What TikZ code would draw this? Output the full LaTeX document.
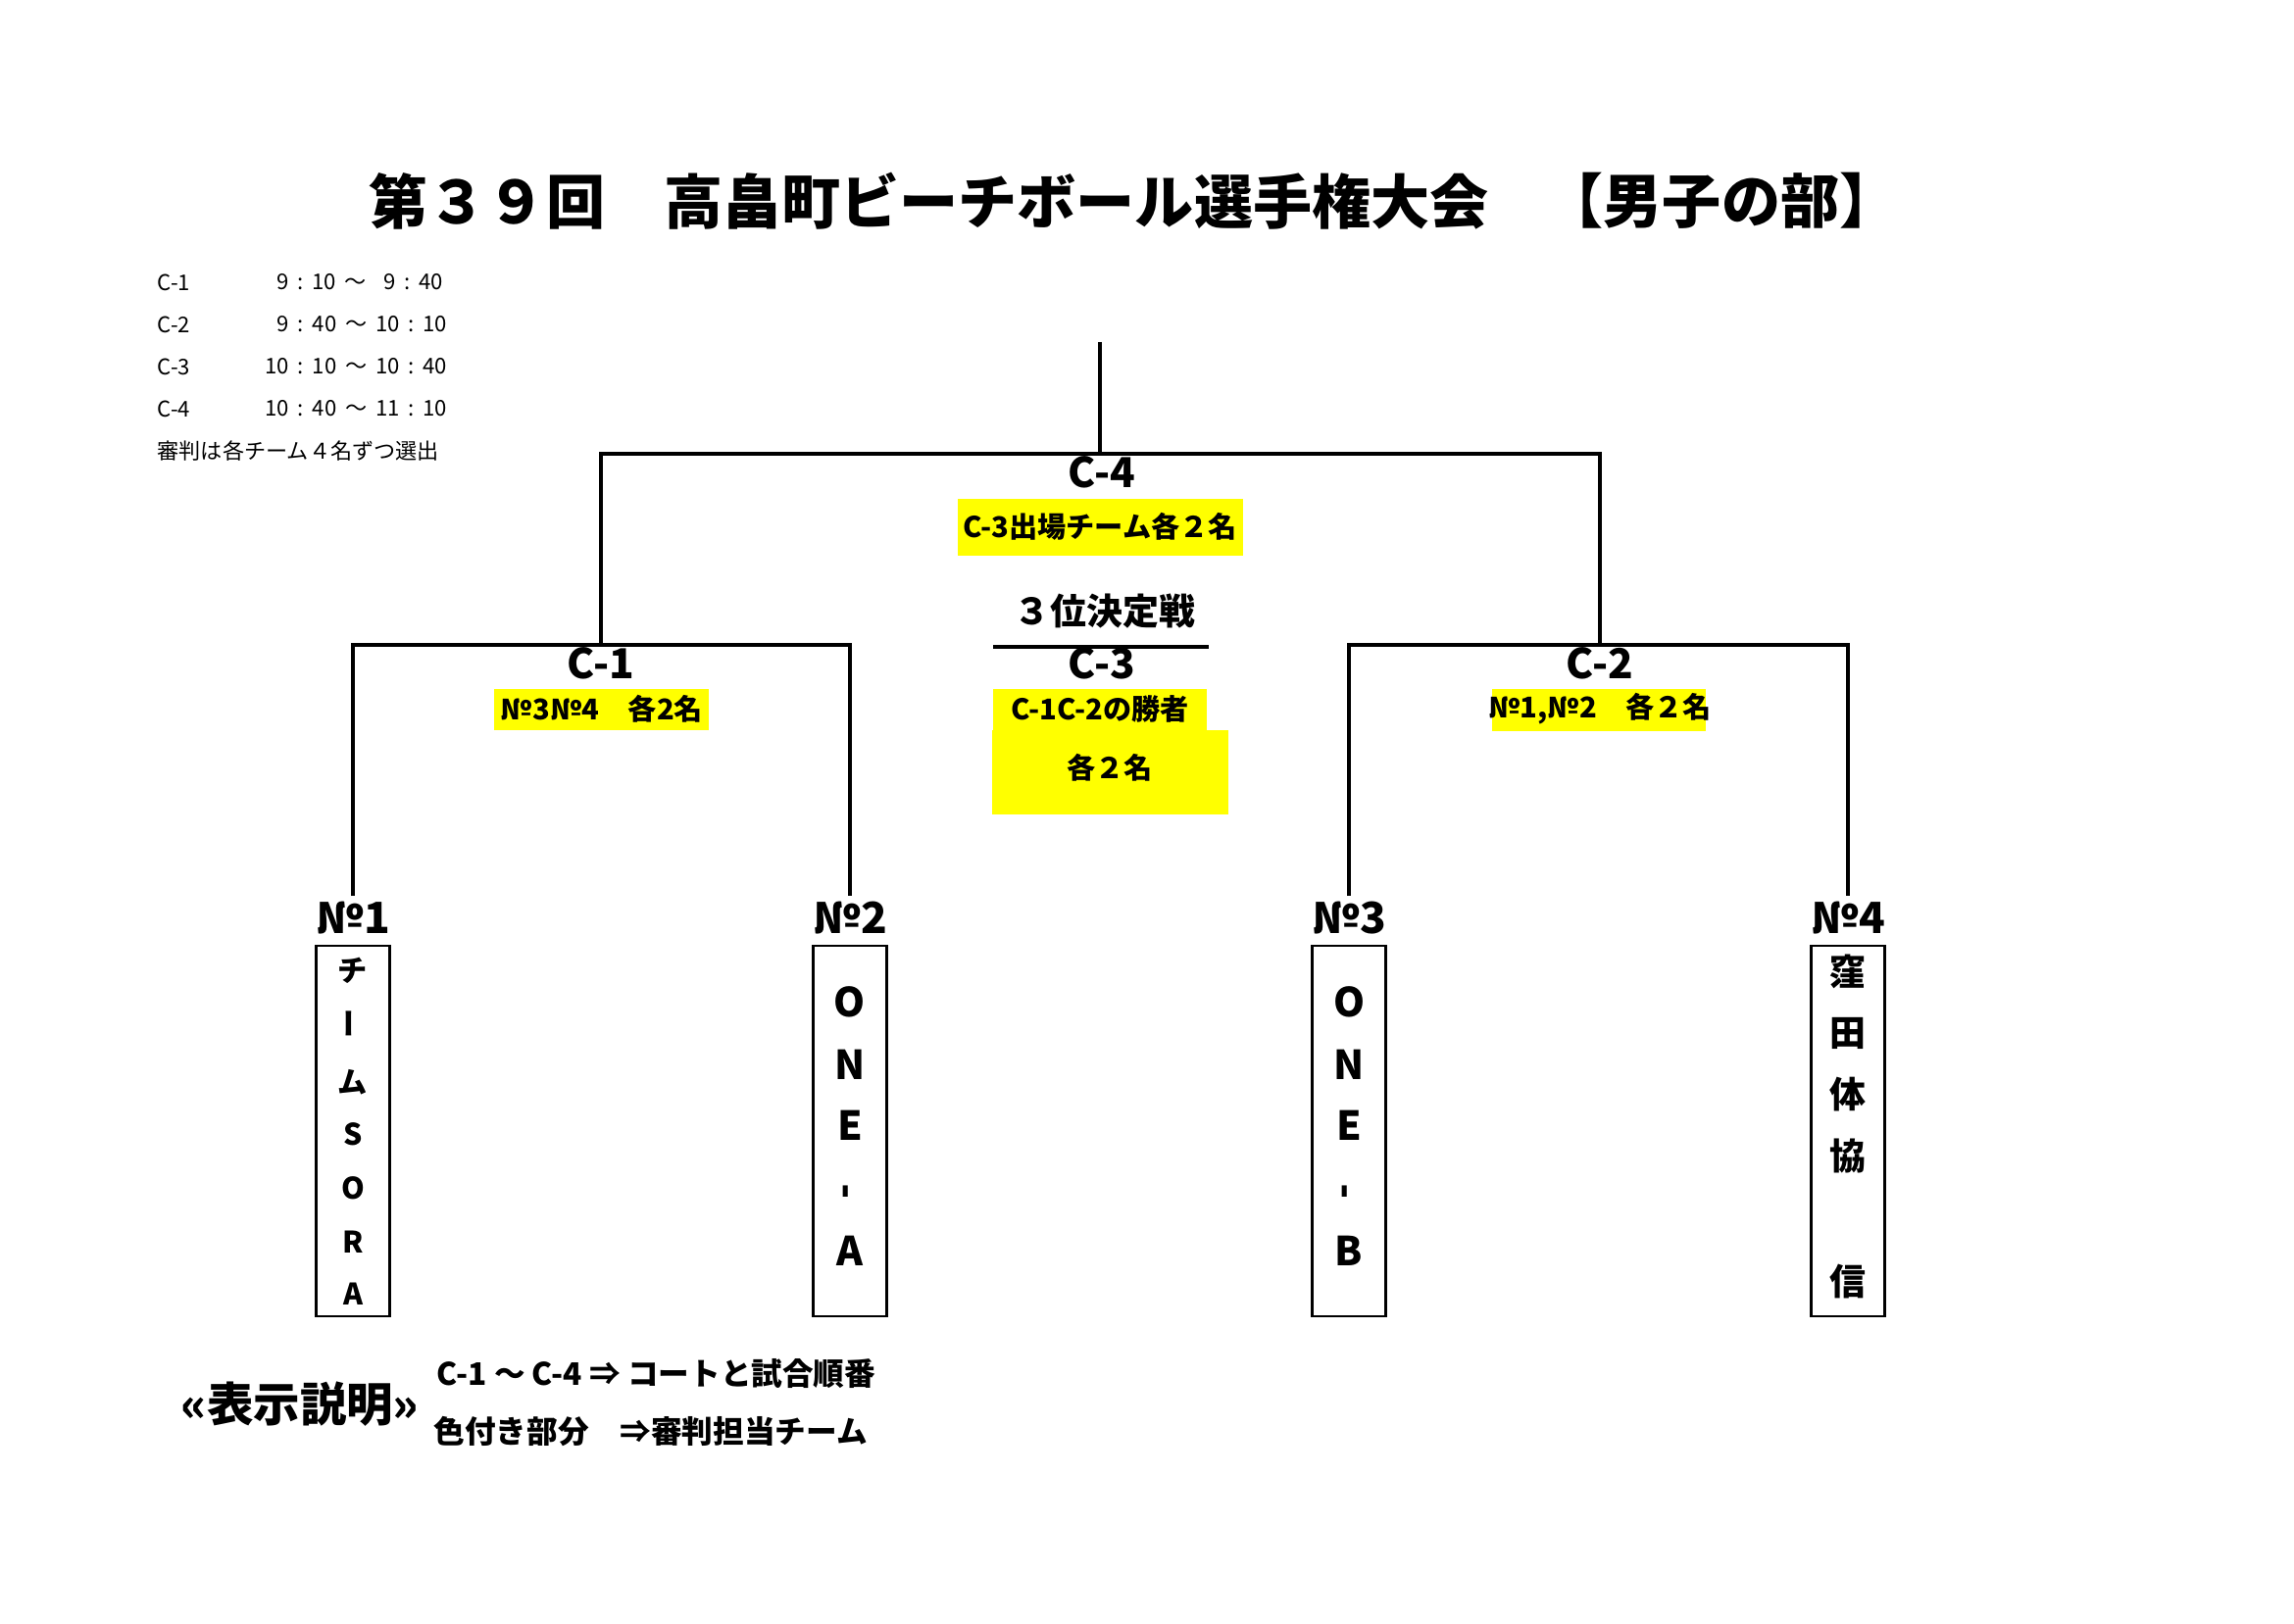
\documentclass[tikz,border=0pt]{standalone}
\usepackage{fontspec}
\setmainfont{Noto Sans CJK JP}
\definecolor{hl}{RGB}{255,255,0}
\newcommand{\fsz}[1]{\fontsize{#1}{#1}\selectfont}
\newcommand{\hs}{\hspace{0.4em}}
\tikzset{
  x=0.1mm, y=-0.1mm,
  conn/.style={line width=0.9pt, black},
  title/.style={inner sep=0, font=\bfseries\fsz{17.1pt}},
  court/.style={inner sep=0, font=\bfseries\fsz{12pt}},
  ref/.style={inner sep=0, font=\bfseries\fsz{8.3pt}},
  third/.style={inner sep=0, font=\bfseries\fsz{10.5pt}},
  teamno/.style={inner sep=0, font=\bfseries\fsz{12.5pt}},
  teambox/.style={draw, line width=0.8pt, minimum width=7.5mm, minimum height=37.8mm, inner sep=0},
  letS/.style={inner sep=0, font=\bfseries\fsz{8.6pt}},
  letL/.style={inner sep=0, font=\bfseries\fsz{11.6pt}},
  letK/.style={inner sep=0, font=\bfseries\fsz{10.5pt}},
  sch/.style={inner sep=0, font=\fsz{6.3pt}},
  leg/.style={inner sep=0, font=\bfseries\fsz{9pt}},
  legt/.style={inner sep=0, font=\bfseries\fsz{13.5pt}},
  hlbox/.style={fill=hl, draw=none},
}
\begin{document}
\begin{tikzpicture}
\useasboundingbox (0,0) rectangle (2340,1656);
\fill[white] (0,0) rectangle (2340,1656);

% title
\node[title, anchor=west] (title) at (376,205) {第３９回　高畠町ビーチボール選手権大会};
\node[title, anchor=east] (title2) at (1937,205) {【男子の部】};

% schedule
\node[sch, anchor=west] (s1l) at (160,288) {C-1};
\node[sch, anchor=east] (s1r) at (453,288) {9\hs:\hs10\hs～\hs\hs9\hs:\hs40};
\node[sch, anchor=west] (s2l) at (160,331) {C-2};
\node[sch, anchor=east] (s2r) at (457,331) {9\hs:\hs40\hs～\hs10\hs:\hs10};
\node[sch, anchor=west] (s3l) at (160,374) {C-3};
\node[sch, anchor=east] (s3r) at (457,374) {10\hs:\hs10\hs～\hs10\hs:\hs40};
\node[sch, anchor=west] (s4l) at (160,417) {C-4};
\node[sch, anchor=east] (s4r) at (457,417) {10\hs:\hs40\hs～\hs11\hs:\hs10};
\node[sch, anchor=west] (s5) at (160,460) {審判は各チーム４名ずつ選出};

% highlight boxes
\path[hlbox] (977,509) rectangle (1268,567);
\path[hlbox] (504,703) rectangle (723,745);
\path[hlbox] (1522,703) rectangle (1740,746);
\path[hlbox] (1013,703) rectangle (1231,746);
\path[hlbox] (1012,745) rectangle (1253,831);

% bracket junctions
\coordinate (root) at (1122,349);
\coordinate (c4) at (1122,463);
\coordinate (c1) at (613,658);
\coordinate (c2) at (1632,658);
\coordinate (t1) at (360,914);
\coordinate (t2) at (867,914);
\coordinate (t3) at (1376,914);
\coordinate (t4) at (1885,914);
\draw[conn] (root) -- (c4);
\draw[conn] (c1) |- (c4) -| (c2);
\draw[conn] (t1) |- (c1) -| (t2);
\draw[conn] (t3) |- (c2) -| (t4);

% court labels
\node[court] (C4) at (1124,482) {C-4};
\node[ref] (r4) at (1122,537) {C-3出場チーム各２名};
\node[third] (third) at (1127,624) {３位決定戦};
\coordinate (ulA) at (1013,660);
\coordinate (ulB) at (1233,660);
\draw[conn] (ulA) -- (ulB);
\node[court] (C3) at (1124,677) {C-3};
\node[ref] (r3a) at (1122,723) {C-1C-2の勝者};
\node[ref] (r3b) at (1132,783) {各２名};
\node[court] (C1) at (613,677) {C-1};
\node[ref] (r1) at (614,723) {№3№4　各2名};
\node[court] (C2) at (1632,677) {C-2};
\node[ref] (r2) at (1632,723) {№1,№2　各２名};

% team numbers
\node[teamno] (n1) at (360,937) {№1};
\node[teamno] (n2) at (867,937) {№2};
\node[teamno] (n3) at (1376,937) {№3};
\node[teamno] (n4) at (1885,937) {№4};

% team boxes
\node[teambox] (b1) at (360,1154) {};
\node[teambox] (b2) at (867,1154) {};
\node[teambox] (b3) at (1376,1154) {};
\node[teambox] (b4) at (1885,1154) {};

% team 1 letters
\node[letS] (a1) at (360,990) {チ};
\node[letS, rotate=90] (a2) at (360,1044) {ー};
\node[letS] (a3) at (360,1104) {ム};
\node[letS] (a4) at (360,1157) {S};
\node[letS] (a5) at (360,1212) {O};
\node[letS] (a6) at (360,1267) {R};
\node[letS] (a7) at (360,1320) {A};

% team 2 letters
\node[letL] (b2a) at (867,1022) {O};
\node[letL] (b2b) at (867,1086) {N};
\node[letL] (b2c) at (867,1148) {E};
\node[letL, rotate=90] (b2d) at (867,1216) {-};
\node[letL] (b2e) at (867,1276) {A};

% team 3 letters
\node[letL] (b3a) at (1376,1022) {O};
\node[letL] (b3b) at (1376,1086) {N};
\node[letL] (b3c) at (1376,1148) {E};
\node[letL, rotate=90] (b3d) at (1376,1216) {-};
\node[letL] (b3e) at (1376,1276) {B};

% team 4 letters
\node[letK] (k1) at (1885,991) {窪};
\node[letK] (k2) at (1885,1054) {田};
\node[letK] (k3) at (1885,1117) {体};
\node[letK] (k4) at (1885,1180) {協};
\node[letK] (k5) at (1885,1307) {信};

% legend
\node[legt] (lt) at (306,1433) {«表示説明»};
\node[leg, anchor=west] (l1) at (445,1401) {C-1 ～ C-4 ⇒ コートと試合順番};
\node[leg, anchor=west] (l2) at (442,1460) {色付き部分　⇒審判担当チーム};
\end{tikzpicture}
\end{document}
